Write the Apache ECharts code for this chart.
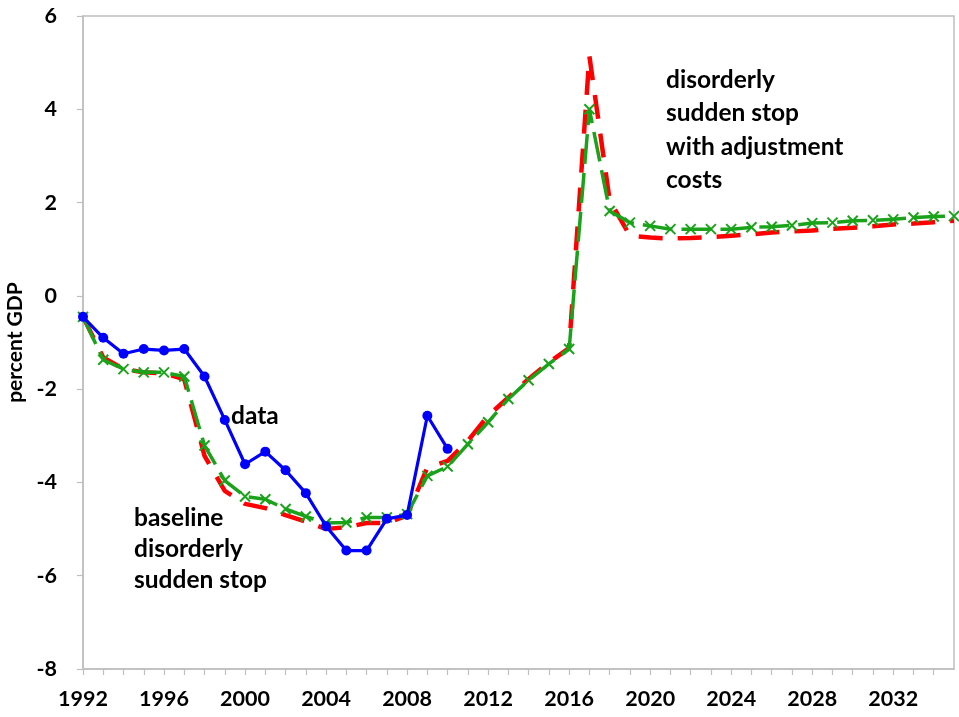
<!DOCTYPE html>
<html>
<head>
<meta charset="utf-8">
<script src="https://cdn.jsdelivr.net/npm/echarts@6/dist/echarts.min.js"></script>
<style>
  html, body { margin: 0; padding: 0; background: #fff; }
  #chart { width: 959px; height: 717px; }
</style>
</head>
<body>
<div id="chart"></div>
<script>
// Years on the horizontal axis
const years = [];
for (let y = 1992; y <= 2035; y++) years.push(y);

// Observed current account, percent of GDP (1992-2010)
const dataValues = [-0.45, -0.90, -1.24, -1.14, -1.17, -1.14, -1.73, -2.66, -3.61, -3.34,
  -3.74, -4.23, -4.94, -5.46, -5.46, -4.78, -4.70, -2.57, -3.28];

// Baseline disorderly sudden stop (1992-2035)
const baselineValues = [-0.45, -1.32, -1.57, -1.64, -1.66, -1.79, -3.43, -4.18, -4.46, -4.55,
  -4.70, -4.84, -5.00, -4.96, -4.87, -4.87, -4.71, -3.68, -3.54, -3.11,
  -2.57, -2.18, -1.78, -1.43, -1.12, 5.14, 2.05, 1.29, 1.25, 1.23,
  1.24, 1.26, 1.29, 1.32, 1.36, 1.38, 1.40, 1.44, 1.46, 1.49,
  1.53, 1.55, 1.58, 1.61];

// Disorderly sudden stop with adjustment costs (1992-2035)
const adjustmentValues = [-0.45, -1.37, -1.57, -1.64, -1.64, -1.73, -3.21, -3.96, -4.30, -4.36,
  -4.57, -4.73, -4.87, -4.86, -4.75, -4.75, -4.68, -3.86, -3.66, -3.18,
  -2.71, -2.21, -1.81, -1.46, -1.14, 4.00, 1.82, 1.57, 1.50, 1.43,
  1.43, 1.43, 1.43, 1.47, 1.48, 1.51, 1.56, 1.57, 1.61, 1.62,
  1.64, 1.68, 1.70, 1.71];

// Axis ticks
const yTicks = [-8, -6, -4, -2, 0, 2, 4, 6];
const xLabelYears = [1992, 1996, 2000, 2004, 2008, 2012, 2016, 2020, 2024, 2028, 2032];

const pair = (vals) => vals.map((v, i) => [years[i], v]);

const FONT = 'Lato, "Liberation Sans", sans-serif';
const AXIS_GRAY = '#bfbfbf';
const crossPath = 'path://M0,0 L10,10 M10,0 L0,10';

const chart = echarts.init(document.getElementById('chart'), null, { renderer: 'canvas' });

chart.setOption({
  animation: false,
  backgroundColor: '#ffffff',
  grid: {
    left: 83, top: 16, right: 5, bottom: 48,
    outerBoundsMode: 'none',
    containLabel: false,
    show: true, borderColor: AXIS_GRAY, borderWidth: 1.5, backgroundColor: 'transparent'
  },
  xAxis: {
    type: 'value',
    min: 1992, max: 2035, interval: 1,
    axisLine: { show: true, onZero: false, lineStyle: { color: AXIS_GRAY, width: 1.5 } },
    axisTick: { show: true, length: 6, lineStyle: { color: AXIS_GRAY, width: 1.2 } },
    splitLine: { show: false },
    axisLabel: {
      margin: 19,
      color: '#000', fontFamily: FONT, fontWeight: 'bold', fontSize: 21.5,
      showMaxLabel: false,
      formatter: (v) => xLabelYears.indexOf(v) >= 0 ? String(v) : ''
    }
  },
  yAxis: {
    type: 'value',
    min: yTicks[0], max: yTicks[yTicks.length - 1], interval: 2,
    name: 'percent GDP',
    nameLocation: 'middle',
    nameGap: 52,
    nameRotate: 90,
    nameTextStyle: { color: '#000', fontFamily: FONT, fontWeight: 'bold', fontSize: 21 },
    axisLine: { show: true, onZero: false, lineStyle: { color: AXIS_GRAY, width: 1.5 } },
    axisTick: { show: true, length: 6, lineStyle: { color: AXIS_GRAY, width: 1.2 } },
    splitLine: { show: false },
    axisLabel: {
      margin: 26,
      color: '#000', fontFamily: FONT, fontWeight: 'bold', fontSize: 21.5
    }
  },
  series: [
    {
      name: 'baseline disorderly sudden stop',
      type: 'line',
      data: pair(baselineValues),
      showSymbol: false,
      symbol: 'none',
      lineStyle: { color: '#ff0000', width: 4.5, type: [24, 15], cap: 'butt' },
      z: 2
    },
    {
      name: 'disorderly sudden stop with adjustment costs',
      type: 'line',
      data: pair(adjustmentValues),
      symbol: crossPath,
      symbolSize: 10,
      itemStyle: { color: 'transparent', borderColor: '#1aa31a', borderWidth: 2 },
      lineStyle: { color: '#1aa31a', width: 3.5, type: [30, 9], cap: 'butt' },
      z: 3
    },
    {
      name: 'data',
      type: 'line',
      data: pair(dataValues),
      symbol: 'circle',
      symbolSize: 10,
      itemStyle: { color: '#0000ff', borderWidth: 0 },
      lineStyle: { color: '#0000ff', width: 3.2 },
      z: 4
    }
  ],
  graphic: [
    {
      type: 'text', left: 231, top: 401,
      style: { text: 'data', fill: '#000', font: 'bold 24.5px ' + FONT, lineHeight: 30 }
    },
    {
      type: 'text', left: 134, top: 503,
      style: { text: 'baseline\ndisorderly\nsudden stop', fill: '#000', font: 'bold 24.5px ' + FONT, lineHeight: 31 }
    },
    {
      type: 'text', left: 666, top: 63,
      style: { text: 'disorderly\nsudden stop\nwith adjustment\ncosts', fill: '#000', font: 'bold 24.5px ' + FONT, lineHeight: 33.5 }
    }
  ]
});
</script>
</body>
</html>
